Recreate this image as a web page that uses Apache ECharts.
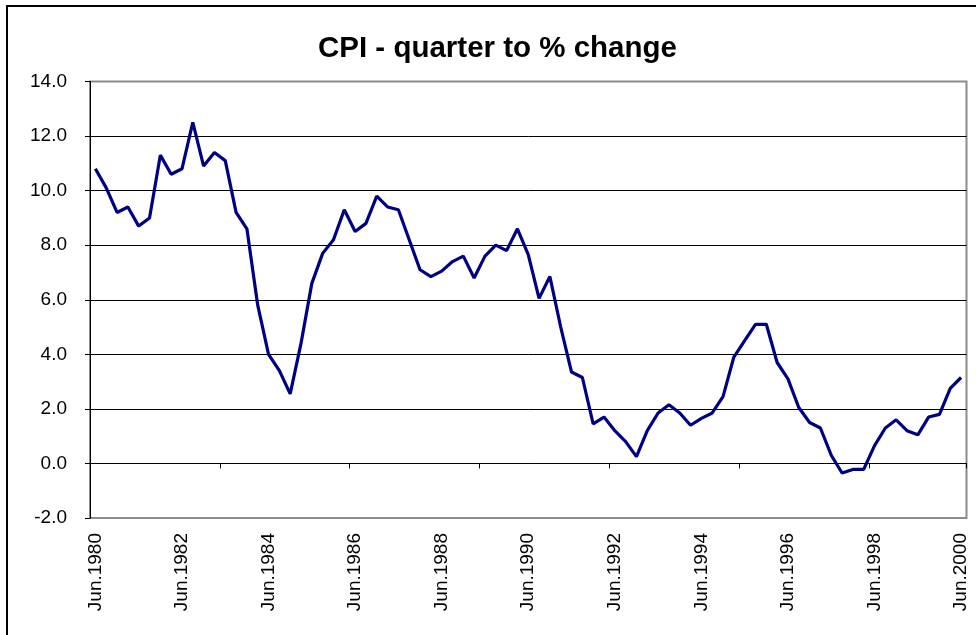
<!DOCTYPE html>
<html>
<head>
<meta charset="utf-8">
<script src="https://cdn.jsdelivr.net/npm/echarts@6/dist/echarts.min.js"></script>
<style>
html,body{margin:0;padding:0;background:#fff;}
#chart{width:976px;height:635px;}
</style>
</head>
<body>
<div id="chart"></div>
<script>
const titleText = 'CPI - quarter to % change';

const categories = [
  'Jun.1980','Sep.1980','Dec.1980','Mar.1981','Jun.1981','Sep.1981','Dec.1981','Mar.1982',
  'Jun.1982','Sep.1982','Dec.1982','Mar.1983','Jun.1983','Sep.1983','Dec.1983','Mar.1984',
  'Jun.1984','Sep.1984','Dec.1984','Mar.1985','Jun.1985','Sep.1985','Dec.1985','Mar.1986',
  'Jun.1986','Sep.1986','Dec.1986','Mar.1987','Jun.1987','Sep.1987','Dec.1987','Mar.1988',
  'Jun.1988','Sep.1988','Dec.1988','Mar.1989','Jun.1989','Sep.1989','Dec.1989','Mar.1990',
  'Jun.1990','Sep.1990','Dec.1990','Mar.1991','Jun.1991','Sep.1991','Dec.1991','Mar.1992',
  'Jun.1992','Sep.1992','Dec.1992','Mar.1993','Jun.1993','Sep.1993','Dec.1993','Mar.1994',
  'Jun.1994','Sep.1994','Dec.1994','Mar.1995','Jun.1995','Sep.1995','Dec.1995','Mar.1996',
  'Jun.1996','Sep.1996','Dec.1996','Mar.1997','Jun.1997','Sep.1997','Dec.1997','Mar.1998',
  'Jun.1998','Sep.1998','Dec.1998','Mar.1999','Jun.1999','Sep.1999','Dec.1999','Mar.2000',
  'Jun.2000'
];

const cpiChange = [
  10.8, 10.1, 9.2, 9.4, 8.7, 9.0, 11.3, 10.6, 10.8, 12.5,
  10.9, 11.4, 11.1, 9.2, 8.6, 5.8, 4.0, 3.4, 2.55, 4.4,
  6.6, 7.7, 8.2, 9.3, 8.5, 8.8, 9.8, 9.4, 9.3, 8.2,
  7.1, 6.85, 7.05, 7.4, 7.6, 6.8, 7.6, 8.0, 7.8, 8.6,
  7.65, 6.05, 6.85, 5.0, 3.35, 3.15, 1.45, 1.7, 1.2, 0.8,
  0.25, 1.2, 1.85, 2.15, 1.85, 1.4, 1.65, 1.85, 2.45, 3.9,
  4.5, 5.1, 5.1, 3.7, 3.1, 2.05, 1.5, 1.3, 0.3, -0.35,
  -0.22, -0.22, 0.65, 1.3, 1.6, 1.2, 1.05, 1.7, 1.8, 2.75,
  3.15
];

const yMin = -2, yMax = 14, yStep = 2;

const chart = echarts.init(document.getElementById('chart'), null, {renderer: 'canvas'});
const font = 'Liberation Sans, Arial, sans-serif';

chart.setOption({
  animation: false,
  backgroundColor: '#fff',
  textStyle: {fontFamily: font},
  title: {
    text: titleText,
    left: 318,
    top: 34,
    padding: 0,
    textStyle: {fontFamily: font, fontSize: 29.5, fontWeight: 'bold', color: '#000'}
  },
  graphic: [{
    type: 'rect',
    shape: {x: 7, y: 6, width: 1000, height: 700},
    style: {fill: 'none', stroke: '#000', lineWidth: 2},
    silent: true,
    z: 100
  }],
  grid: {
    left: 90, top: 81.5, right: 9.5, bottom: 117,
    show: true, borderColor: '#8c8c8c', borderWidth: 2, backgroundColor: '#fff'
  },
  xAxis: [{
    type: 'category',
    data: categories,
    boundaryGap: true,
    axisLine: {onZero: true, lineStyle: {color: '#000', width: 1}},
    axisTick: {show: true, interval: 11, length: 5, lineStyle: {color: '#000'}},
    axisLabel: {show: false},
    splitLine: {show: false}
  }, {
    type: 'category',
    data: categories,
    boundaryGap: true,
    position: 'bottom',
    axisLine: {show: false, onZero: false},
    axisTick: {show: false},
    axisLabel: {
      show: true, interval: 7, rotate: 90, margin: 15,
      fontFamily: font, fontSize: 19, color: '#000'
    },
    splitLine: {show: false}
  }],
  yAxis: {
    type: 'value',
    min: yMin, max: yMax, interval: yStep,
    axisLine: {show: true, lineStyle: {color: '#000', width: 1}},
    axisTick: {show: true, length: 5, lineStyle: {color: '#000'}},
    axisLabel: {
      margin: 23, fontFamily: font, fontSize: 19, color: '#000',
      formatter: v => v.toFixed(1)
    },
    splitLine: {
      show: true,
      lineStyle: {color: ['#8c8c8c','#000','#000','#000','#000','#000','#000','#000','#8c8c8c'], width: 1}
    }
  },
  series: [{
    type: 'line',
    xAxisIndex: 0,
    data: cpiChange,
    showSymbol: false,
    symbol: 'none',
    lineStyle: {color: '#000080', width: 3.2},
    z: 5
  }]
});
</script>
</body>
</html>
